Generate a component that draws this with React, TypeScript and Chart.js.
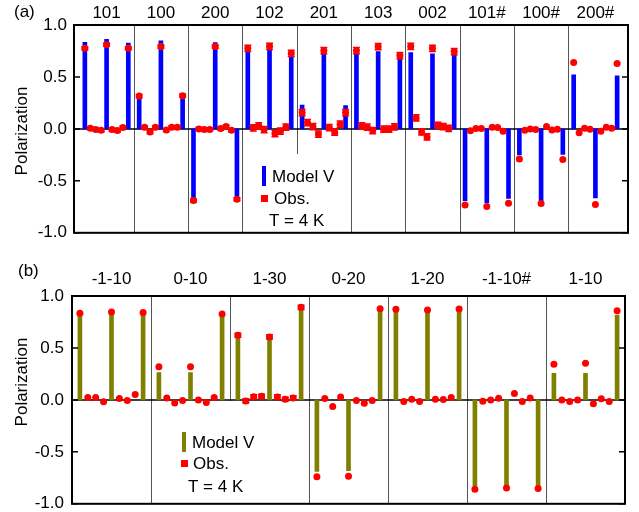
import React, { useEffect, useRef } from 'react';
import { Chart, registerables } from 'chart.js';

Chart.register(...registerables);
Chart.defaults.font.family = "'Liberation Sans', Arial, sans-serif";
Chart.defaults.color = '#000';

// ---------- Panel (a) ----------
const groupsA = ['101', '100', '200', '102', '201', '103', '002', '101#', '100#', '200#'];
// model values at positions 1, 5, 9 of each group
const modelA = [
  [0.834, 0.863, 0.827],
  [0.32, 0.847, 0.326],
  [-0.665, 0.83, -0.652],
  [0.79, 0.79, 0.71],
  [0.23, 0.735, 0.224],
  [0.76, 0.744, 0.697],
  [0.735, 0.722, 0.712],
  [-0.69, -0.71, -0.67],
  [-0.25, -0.69, -0.246],
  [0.52, -0.665, 0.51],
];
const obsA = [
  [0.776, 0.006, -0.006, -0.013, 0.81, -0.006, -0.016, 0.013, 0.776],
  [0.316, 0.016, -0.029, 0.016, 0.792, -0.01, 0.016, 0.016, 0.32],
  [-0.69, 0, -0.006, -0.006, 0.792, 0.003, 0.022, -0.013, -0.677],
  [0.776, 0.01, 0.03, -0.006, 0.795, -0.045, -0.022, 0.016, 0.728],
  [0.157, 0.06, 0.022, -0.05, 0.754, 0.013, -0.032, 0.045, 0.157],
  [0.754, 0.029, 0.016, -0.016, 0.792, -0.003, -0.003, 0.019, 0.706],
  [0.795, 0.105, -0.029, -0.077, 0.776, 0.035, 0.022, 0.005, 0.744],
  [-0.732, -0.019, 0.003, 0.003, -0.748, 0.016, 0.013, -0.022, -0.716],
  [-0.29, -0.013, 0, -0.006, -0.719, 0.022, -0.01, -0.003, -0.294],
  [0.639, -0.038, 0.006, -0.003, -0.728, -0.022, 0.016, 0.006, 0.63],
];
const errA = [0.015, 0.015, 0.015, 0.03, 0.03, 0.03, 0.03, 0, 0, 0];

// ---------- Panel (b) ----------
const groupsB = ['-1-10', '0-10', '1-30', '0-20', '1-20', '-1-10#', '1-10'];
const modelB = [
  [0.817, 0.833, 0.824],
  [0.263, 0.263, 0.801],
  [0.593, 0.587, 0.865],
  [-0.689, -0.68, 0.849],
  [0.849, 0.849, 0.843],
  [-0.827, -0.827, -0.827],
  [0.256, 0.256, 0.817],
];
const obsB = [
  [0.833, 0.022, 0.022, -0.019, 0.846, 0.013, -0.006, 0.051, 0.84],
  [0.32, 0.019, -0.029, -0.006, 0.32, 0, -0.026, 0.022, 0.827],
  [0.622, -0.01, 0.03, 0.035, 0.606, 0.029, 0.006, 0.019, 0.891],
  [-0.74, 0.013, -0.064, 0.029, -0.734, -0.006, -0.032, -0.006, 0.878],
  [0.872, -0.016, 0.006, -0.016, 0.865, 0.006, 0.005, 0.022, 0.875],
  [-0.859, -0.013, 0, 0.016, -0.849, 0.061, -0.016, 0.019, -0.853],
  [0.343, 0, -0.016, 0, 0.353, -0.038, 0.01, -0.016, 0.859],
];
const errB = [0, 0, 0.02, 0, 0, 0, 0];

const yTicks = [-1, -0.5, 0, 0.5, 1];
const legendLabels = ['Model V', 'Obs.', 'T = 4 K'];

const FONT = "17px 'Liberation Sans', Arial, sans-serif";

type PanelCfg = {
  letter: string;
  groups: string[];
  model: number[][];
  obs: number[][];
  err: number[];
  color: string;
  height: number;
  xMin: number;
  xMax: number;
  padding: { left: number; right: number; top: number; bottom: number };
  axisWidth: number;
  tickPad: number;
  letterPos: [number, number];
  titleY: number;
  groupLabelY: number;
  box: [number, number, number, number];
  legBar: [number, number, number, number];
  legSq: [number, number, number, number];
  legText: [number, number][];
};

function makePlugin(cfg: PanelCfg) {
  return {
    id: 'panelDecor' + cfg.letter,
    beforeDatasetsDraw(chart: any) {
      const { ctx, chartArea: a, scales } = chart;
      const x = scales.x, y = scales.y;
      ctx.save();
      ctx.strokeStyle = '#555';
      ctx.lineWidth = 1;
      for (let g = 1; g < cfg.groups.length; g++) {
        const px = Math.round(x.getPixelForValue(g * 10)) + 0.5;
        ctx.beginPath();
        ctx.moveTo(px, a.top);
        ctx.lineTo(px, a.bottom);
        ctx.stroke();
      }
      ctx.fillStyle = '#fff';
      const [bx, by, bw, bh] = cfg.box;
      ctx.fillRect(bx, by, bw, bh);
      const y0 = y.getPixelForValue(0);
      ctx.strokeStyle = '#000';
      ctx.lineWidth = 1.5;
      ctx.beginPath();
      ctx.moveTo(a.left, y0);
      ctx.lineTo(a.right, y0);
      ctx.stroke();
      ctx.restore();
    },
    afterDatasetsDraw(chart: any) {
      const { ctx, chartArea: a, scales } = chart;
      const x = scales.x, y = scales.y;
      ctx.save();
      // error bars
      ctx.strokeStyle = '#ff0000';
      ctx.lineWidth = 1.5;
      cfg.obs.forEach((grp, g) => {
        const e = cfg.err[g];
        if (!e) return;
        grp.forEach((v, i) => {
          const px = x.getPixelForValue(g * 10 + 1 + i);
          const y1 = y.getPixelForValue(v + e);
          const y2 = y.getPixelForValue(v - e);
          ctx.beginPath();
          ctx.moveTo(px, y1); ctx.lineTo(px, y2);
          ctx.moveTo(px - 3.5, y1); ctx.lineTo(px + 3.5, y1);
          ctx.moveTo(px - 3.5, y2); ctx.lineTo(px + 3.5, y2);
          ctx.stroke();
        });
      });
      // frame
      ctx.strokeStyle = '#000';
      ctx.lineWidth = 2;
      ctx.strokeRect(a.left, a.top, a.right - a.left, a.bottom - a.top);
      // inward ticks
      ctx.lineWidth = 1.5;
      yTicks.forEach((t) => {
        const py = y.getPixelForValue(t);
        ctx.beginPath();
        ctx.moveTo(a.left, py); ctx.lineTo(a.left + 6, py);
        ctx.moveTo(a.right, py); ctx.lineTo(a.right - 6, py);
        ctx.stroke();
      });
      // group labels
      ctx.fillStyle = '#000';
      ctx.font = FONT;
      ctx.textAlign = 'center';
      ctx.textBaseline = 'middle';
      cfg.groups.forEach((lab, g) => {
        ctx.fillText(lab, x.getPixelForValue(g * 10 + 5), cfg.groupLabelY);
      });
      // panel letter
      ctx.textAlign = 'left';
      ctx.fillText('(' + cfg.letter + ')', cfg.letterPos[0], cfg.letterPos[1]);
      // y title
      ctx.save();
      ctx.translate(22, cfg.titleY);
      ctx.rotate(-Math.PI / 2);
      ctx.textAlign = 'center';
      ctx.fillText('Polarization', 0, 0);
      ctx.restore();
      // legend
      ctx.fillStyle = cfg.color;
      ctx.fillRect(...cfg.legBar);
      ctx.fillStyle = '#ff0000';
      ctx.fillRect(...cfg.legSq);
      ctx.fillStyle = '#000';
      ctx.textAlign = 'left';
      legendLabels.forEach((t, i) => {
        ctx.fillText(t, cfg.legText[i][0], cfg.legText[i][1]);
      });
      ctx.restore();
    },
  };
}

function Panel({ cfg }: { cfg: PanelCfg }) {
  const ref = useRef<HTMLCanvasElement | null>(null);
  useEffect(() => {
    if (!ref.current) return;
    const bars: { x: number; y: number }[] = [];
    cfg.model.forEach((grp, g) => {
      [1, 5, 9].forEach((pos, k) => bars.push({ x: g * 10 + pos, y: grp[k] }));
    });
    const pts: { x: number; y: number }[] = [];
    cfg.obs.forEach((grp, g) => {
      grp.forEach((v, i) => pts.push({ x: g * 10 + 1 + i, y: v }));
    });
    const chart = new Chart(ref.current, {
      type: 'bar',
      data: {
        datasets: [
          {
            type: 'bar',
            data: bars,
            backgroundColor: cfg.color,
            barThickness: 4,
            order: 2,
          } as any,
          {
            type: 'line',
            data: pts,
            showLine: false,
            pointRadius: 3.5,
            pointBackgroundColor: '#ff0000',
            pointBorderWidth: 0,
            borderColor: '#ff0000',
            order: 1,
          } as any,
        ],
      },
      options: {
        animation: false,
        responsive: false,
        maintainAspectRatio: false,
        layout: { padding: cfg.padding },
        plugins: { legend: { display: false }, tooltip: { enabled: false } },
        scales: {
          x: { type: 'linear', min: cfg.xMin, max: cfg.xMax, display: false, offset: false },
          y: {
            min: -1,
            max: 1,
            afterFit: (s: any) => { s.width = cfg.axisWidth; },
            afterBuildTicks: (s: any) => { s.ticks = yTicks.map((v) => ({ value: v })); },
            grid: { display: false, drawTicks: false },
            border: { display: false },
            ticks: {
              padding: cfg.tickPad,
              color: '#000',
              font: { size: 17 },
              callback: (v: any) => Number(v).toFixed(1),
            },
          },
        },
      } as any,
      plugins: [makePlugin(cfg)],
    });
    return () => chart.destroy();
  }, [cfg]);
  return <canvas ref={ref} width={639} height={cfg.height} style={{ display: 'block', width: 639, height: cfg.height }} />;
}

const cfgA: PanelCfg = {
  letter: 'a',
  groups: groupsA,
  model: modelA,
  obs: obsA,
  err: errA,
  color: '#0000ff',
  height: 250,
  xMin: -1,
  xMax: 101,
  padding: { left: 0, right: 11, top: 25, bottom: 17 },
  axisWidth: 74,
  tickPad: 7,
  letterPos: [14, 12],
  titleY: 131,
  groupLabelY: 13,
  box: [247, 154, 101, 78],
  legBar: [262, 166, 4, 20],
  legSq: [261, 195, 7, 7],
  legText: [[272, 177], [274, 199], [269, 221]],
};

const cfgB: PanelCfg = {
  letter: 'b',
  groups: groupsB,
  model: modelB,
  obs: obsB,
  err: errB,
  color: '#808000',
  height: 272,
  xMin: 0,
  xMax: 70,
  padding: { left: 0, right: 14, top: 46, bottom: 18 },
  axisWidth: 72,
  tickPad: 8,
  letterPos: [18, 21],
  titleY: 132,
  groupLabelY: 29,
  box: [155, 151, 150, 102],
  legBar: [182, 182, 4, 20],
  legSq: [181, 210, 7, 7],
  legText: [[192, 193], [193, 214], [188, 237]],
};

export default function App() {
  return (
    <div style={{ position: 'absolute', left: 0, top: 0, width: 639, height: 512, overflow: 'hidden', background: '#fff' }}>
      <Panel cfg={cfgA} />
      <Panel cfg={cfgB} />
    </div>
  );
}
